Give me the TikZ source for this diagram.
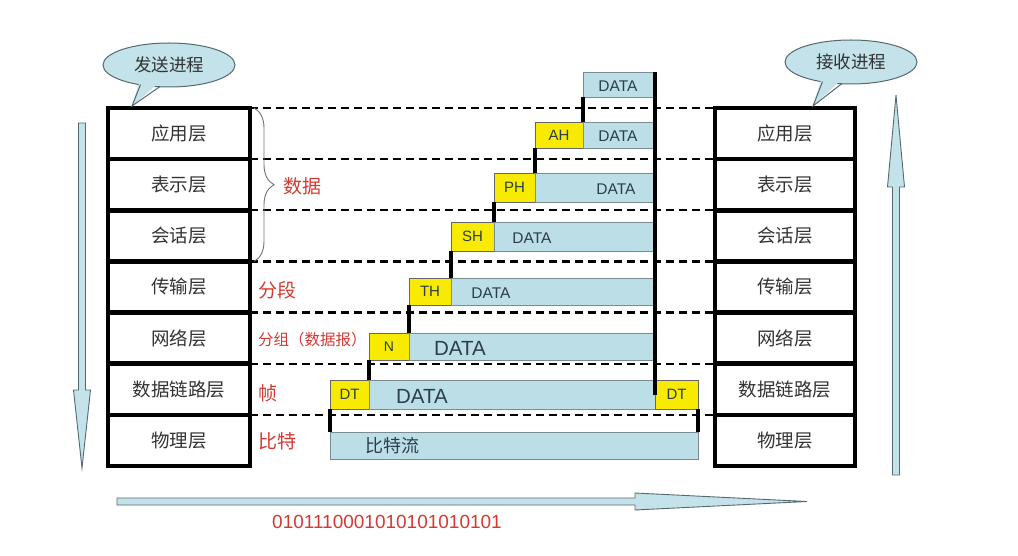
\documentclass[tikz,border=0pt]{standalone}
\usepackage{fontspec}
\setmainfont{Liberation Sans}
\newfontfamily\cjk{Noto Sans CJK SC}
\usetikzlibrary{decorations.pathreplacing,shapes.geometric}
\definecolor{dblue}{HTML}{BCDFE7}
\definecolor{yel}{HTML}{F8EA00}
\definecolor{redt}{HTML}{D53A32}
\definecolor{gtxt}{HTML}{333333}
\definecolor{dtxt}{HTML}{2C3D4E}
\definecolor{bord}{HTML}{7A8B92}
\definecolor{callf}{HTML}{C3E2EA}
\definecolor{arrline}{HTML}{56696F}
\begin{document}
\begin{tikzpicture}[x=1pt,y=-1pt,
  lay/.style={draw=black, line width=4.5pt, minimum width=142pt, minimum height=51.14pt,
    inner sep=0pt, outer sep=0pt, font=\cjk\fontsize{18.5}{20}\selectfont, text=gtxt},
  rlay/.style={lay, minimum width=140pt},
  dashline/.style={line width=2.2pt, dash pattern=on 8pt off 5pt},
  blk/.style={fill=dblue, draw=bord, line width=0.8pt, inner sep=0pt, outer sep=0pt, anchor=north west},
  hdr/.style={fill=yel, draw=black!60, line width=0.8pt, inner sep=0pt, outer sep=0pt, anchor=north west,
    font=\fontsize{15}{15}\selectfont, text=dtxt},
  conn/.style={line width=4pt},
  dsm/.style={font=\fontsize{15.5}{15.5}\selectfont, text=dtxt, inner sep=0pt},
  dbig/.style={font=\fontsize{20.5}{20.5}\selectfont, text=dtxt, inner sep=0pt},
  redl/.style={font=\cjk\fontsize{19}{19}\selectfont, text=redt, anchor=west, inner sep=0pt},
  callout/.style={ellipse, fill=callf, draw=arrline, line width=1pt, minimum width=132pt, minimum height=44pt,
    inner sep=0pt, font=\cjk\fontsize{17.5}{18}\selectfont, text=gtxt},
  bigarrow/.style={fill=callf, draw=arrline, line width=0.9pt, line join=miter}
]
\fill[white] (0,0) rectangle (1018,556);
\useasboundingbox (0,0) rectangle (1018,556);

% left stack
\node[lay] (L1) at (179,133.57) {应用层};
\node[lay] (L2) at (179,184.71) {表示层};
\node[lay] (L3) at (179,235.85) {会话层};
\node[lay] (L4) at (179,286.99) {传输层};
\node[lay] (L5) at (179,338.13) {网络层};
\node[lay] (L6) at (179,389.27) {数据链路层};
\node[lay] (L7) at (179,440.41) {物理层};
% right stack
\node[rlay] (R1) at (785,133.57) {应用层};
\node[rlay] (R2) at (785,184.71) {表示层};
\node[rlay] (R3) at (785,235.85) {会话层};
\node[rlay] (R4) at (785,286.99) {传输层};
\node[rlay] (R5) at (785,338.13) {网络层};
\node[rlay] (R6) at (785,389.27) {数据链路层};
\node[rlay] (R7) at (785,440.41) {物理层};

% dashed lines
\foreach \i in {1,...,7} {
  \draw[dashline] (L\i.north east) -- (R\i.north west);
}

% brace and red labels
\draw[decorate, decoration={brace, amplitude=20pt}, draw=black!55, line width=0.9pt]
  ([xshift=4pt]L1.north east) -- ([xshift=4pt]L3.south east);
\node[redl] (lb1) at (283,186) {数据};
\node[redl] (lb2) at (258,290) {分段};
\node[redl, font=\cjk\fontsize{15.5}{16}\selectfont] (lb3) at (258,340) {分组（数据报）};
\node[redl] (lb4) at (258,393) {帧};
\node[redl] (lb5) at (258,441) {比特};

% data blocks
\node[blk, minimum width=72pt, minimum height=25pt] (d0) at (583,72) {};
\node[hdr, minimum width=48pt, minimum height=26pt] (ahh) at (535,122) {AH};
\node[blk, minimum width=72pt, minimum height=26pt] (ahd) at (583,122) {};
\node[hdr, minimum width=41pt, minimum height=29pt] (phh) at (494,173) {PH};
\node[blk, minimum width=120pt, minimum height=29pt] (phd) at (535,173) {};
\node[hdr, minimum width=43pt, minimum height=29pt] (shh) at (451,222) {SH};
\node[blk, minimum width=161pt, minimum height=29pt] (shd) at (494,222) {};
\node[hdr, minimum width=42pt, minimum height=27pt] (thh) at (409,278) {TH};
\node[blk, minimum width=204pt, minimum height=27pt] (thd) at (451,278) {};
\node[hdr, minimum width=40pt, minimum height=27pt, font=\fontsize{14}{14}\selectfont] (nh) at (369,333) {N};
\node[blk, minimum width=246pt, minimum height=27pt] (nd) at (409,333) {};
\node[hdr, minimum width=39pt, minimum height=29pt] (dth) at (330,380) {DT};
\node[blk, minimum width=286pt, minimum height=29pt] (dtd) at (369,380) {};
\node[hdr, minimum width=43pt, minimum height=29pt] (dtr) at (655,380) {DT};
\node[blk, minimum width=368pt, minimum height=27pt] (bit) at (330,432) {};

% data texts
\node[dsm] (t0) at (618,86) {DATA};
\node[dsm] (t1) at (618,136) {DATA};
\node[dsm] (t2) at (616,189) {DATA};
\node[dsm] (t3) at (532,238) {DATA};
\node[dsm] (t4) at (491,293) {DATA};
\node[dbig] (t5) at (460,348) {DATA};
\node[dbig] (t6) at (422,396) {DATA};
\node[font=\cjk\fontsize{18}{18}\selectfont, text=dtxt, inner sep=0pt] (t7) at (392,446) {比特流};

% connectors
\draw[conn] (d0.south west) -- (ahd.north west);
\draw[conn] (ahh.south west) -- (phd.north west);
\draw[conn] (phh.south west) -- (shd.north west);
\draw[conn] (shh.south west) -- (thd.north west);
\draw[conn] (thh.south west) -- (nd.north west);
\draw[conn] (nh.south west) -- (dtd.north west);
\draw[conn] (dth.south west) -- (bit.north west);
\draw[conn] (dtr.south east) -- (bit.north east);
\draw[line width=3.2pt] (d0.north east) -- (dtr.west);

% callouts
\node[callout] (cs) at (169,65) {发送进程};
\coordinate (cstip) at (132,106);
\fill[callf] (140,80) -- (cstip) -- (160,82) -- cycle;
\draw[arrline, line width=1pt] (140.5,84.6) -- (cstip) -- (160,86.5);
\node[callout] (cr) at (851,62) {接收进程};
\coordinate (crtip) at (813,106);
\fill[callf] (822,77) -- (crtip) -- (842,79) -- cycle;
\draw[arrline, line width=1pt] (822.5,81.6) -- (crtip) -- (842,83.5);

% big arrows
\draw[bigarrow] (78.5,123) -- (85.5,123) -- (85.5,390) -- (90.5,390) -- (82,468) -- (73.5,390) -- (78.5,390) -- cycle;
\draw[bigarrow] (892.5,475) -- (899.5,475) -- (899.5,187) -- (904.5,187) -- (896,95) -- (887.5,187) -- (892.5,187) -- cycle;
\draw[bigarrow] (117,498) -- (635,498) -- (635,493) -- (807,501.5) -- (635,510) -- (635,505) -- (117,505) -- cycle;

\node[font=\fontsize{19}{19}\selectfont, text=redt, anchor=west, inner sep=0pt] (bits) at (272,522) {0101110001010101010101};
\end{tikzpicture}
\end{document}
